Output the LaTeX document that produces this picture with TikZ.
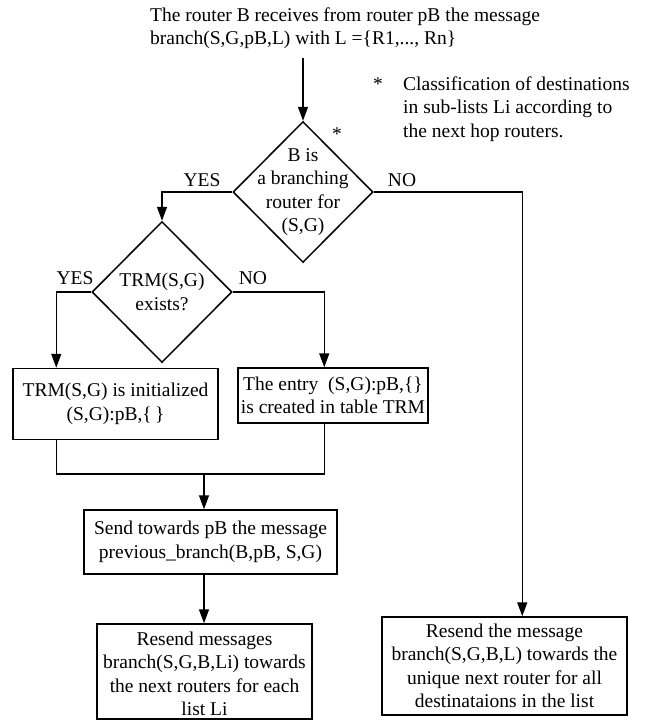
\documentclass[tikz,border=0pt]{standalone}
\usepackage{fontspec}
\setmainfont{Liberation Serif}
\usetikzlibrary{arrows.meta,shapes.geometric}
\begin{document}
\begin{tikzpicture}[x=1pt,y=-1pt,
  every node/.style={font=\fontsize{19.5}{23.5}\selectfont},
  ln/.style={line width=1.5pt},
  arr/.style={ln,-{Triangle[length=14pt,width=10pt]}},
  dia/.style={draw,line width=1.5pt,diamond,inner sep=0pt,minimum width=140pt,minimum height=141pt},
  box/.style={draw,line width=1.5pt,rectangle,inner sep=0pt,align=center},
  txt/.style={inner sep=0pt,align=center}]
\useasboundingbox (0,0) rectangle (650,720);

\node[inner sep=0pt,anchor=base west,align=left] (top) at (150,44.5)
  {The router B receives from router pB the message\\branch(S,G,pB,L) with L =\{R1,..., Rn\}};
\node[inner sep=0pt] (star1) at (378,84) {*};
\node[inner sep=0pt,anchor=base west,align=left] (note) at (403,137)
  {Classification of destinations\\in sub-lists Li according to\\the next hop routers.};

\coordinate (s0) at (303,58);
\node[dia] (d1) at (303,192) {};
\node[txt] (d1t) at (d1) {B is\\a branching\\router for\\(S,G)};
\node[inner sep=0pt] (star2) at (337,134) {*};
\node[inner sep=0pt] (yes1) at (202,180) {YES};
\node[inner sep=0pt] (no1) at (402,180) {NO};

\node[dia] (d2) at (162,292) {};
\node[txt] (d2t) at (d2) {TRM(S,G)\\exists?};
\node[inner sep=0pt] (yes2) at (75,278) {YES};
\node[inner sep=0pt] (no2) at (253,278) {NO};

\node[box,minimum width=205pt,minimum height=71pt] (bA) at (115.5,404)
  {TRM(S,G) is initialized\\(S,G):pB,\{\,\}};
\node[box,minimum width=190pt,minimum height=55pt] (bB) at (333,395.5)
  {The entry\ \ (S,G):pB,\{\}\\is created in table TRM};
\node[box,minimum width=253pt,minimum height=64pt] (send) at (210.5,542)
  {Send towards pB the message\\previous\_branch(B,pB, S,G)};
\node[box,minimum width=215pt,minimum height=95pt] (rl) at (204.5,671.5) {};
\node[txt] (rlt) at (204.5,674) {Resend messages\\branch(S,G,B,Li) towards\\the next routers for each\\list Li};
\node[box,minimum width=245pt,minimum height=98pt] (rb) at (504.5,666)
  {Resend the message\\branch(S,G,B,L) towards the\\unique next router for all\\destinataions in the list};

\draw[arr] (s0) -- (d1.north);
\draw[arr] (d1.west) -| (d2.north);
\draw[arr] (d1.east) -| ([xshift=141pt]rb.north west);
\draw[arr] (d2.west) -| ([xshift=44pt]bA.north west);
\draw[arr] (d2.east) -| ([xshift=87pt]bB.north west);
\coordinate (m) at (204,474);
\draw[ln] ([xshift=44pt]bA.south west) |- (m) -| ([xshift=87pt]bB.south west);
\draw[arr] (m) -- (m |- send.north);
\draw[arr] (send.south -| m) -- (m |- rl.north);
\end{tikzpicture}
\end{document}
